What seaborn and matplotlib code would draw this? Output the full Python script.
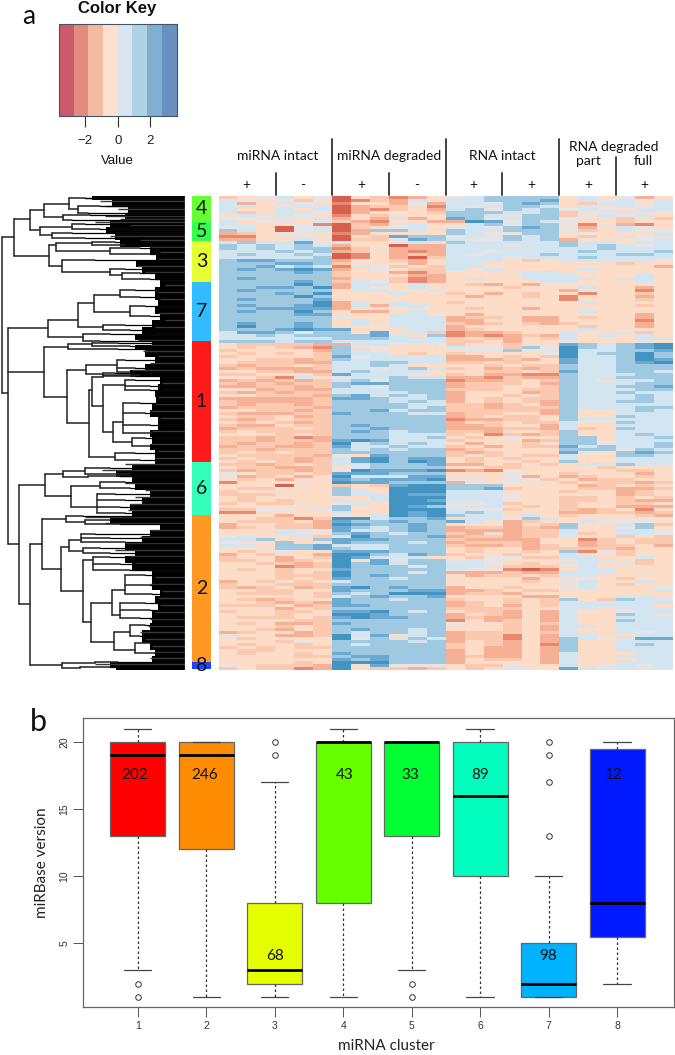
import matplotlib
matplotlib.use('Agg')
import matplotlib.pyplot as plt
from matplotlib.colors import ListedColormap
from matplotlib.lines import Line2D
import numpy as np
import pandas as pd
import seaborn as sns

W, H = 675, 1055

# cluster sizes, as printed in panel b
cluster_ids = [1, 2, 3, 4, 5, 6, 7, 8]
cluster_sizes = [202, 246, 68, 43, 33, 89, 98, 12]
# order of clusters down the heatmap
side_order = [4, 5, 3, 7, 1, 6, 2, 8]
side_colors = ['#66ff33', '#33ff4d', '#e6ff33', '#33bbff', '#ff1a1a', '#33ffbb', '#ff9922', '#2244ff']
box_colors = ['#ff0000', '#ff8c00', '#e6ff00', '#66ff00', '#00ff33', '#00ffbf', '#00b3ff', '#0019ff']

key_bins = [-3.15, -2.25, -1.35, -0.45, 0.45, 1.35, 2.25, 3.15]
key_colors = ['#cb5b6a', '#e38b7e', '#f6b9a1', '#fde0d0', '#d8e6ef', '#afd2e4', '#7fb0d0', '#6a90c0']
key_ticks = [-2, 0, 2]

# heatmap levels (0 red ... 9 dark blue)
heat_colors = ['#d6604d', '#e8896f', '#f6b096', '#fbc9b0', '#fddcc8', '#e6e4e4', '#d3e5f0', '#9fc9e1', '#6aa9d2', '#4393c3']
rows_top = ["345 645 043 124 567 777 464 524", "654 435 013 264 667 778 465 656",
            "624 654 144 252 665 787 436 646", "664 466 023 341 656 776 464 656",
            "644 646 021 342 675 767 565 466", "634 665 024 543 777 667 345 644",
            "465 654 143 444 776 577 356 564", "554 456 242 624 875 677 544 343",
            "645 545 321 442 298 576 544 344", "654 451 032 564 467 577 415 214",
            "564 056 034 564 565 787 524 654", "764 056 027 764 766 777 534 655",
            "234 554 124 444 765 577 454 446", "114 445 043 877 565 767 434 654",
            "224 464 033 587 655 767 244 456", "676 685 644 564 766 666 766 466",
            "767 676 244 022 666 566 767 656", "767 677 135 222 666 666 667 666",
            "666 767 234 212 665 666 676 667", "676 676 014 232 656 667 666 776",
            "666 667 014 203 666 566 676 666", "788 777 254 324 666 434 666 664",
            "777 887 344 424 664 444 444 344", "778 676 165 343 664 444 444 442",
            "787 898 245 433 646 444 464 444", "777 787 344 213 444 566 444 444",
            "777 777 344 422 444 466 644 464", "787 777 244 312 464 466 664 664",
            "777 787 365 312 444 446 644 464", "777 797 266 464 432 424 444 444",
            "778 879 265 464 444 344 464 424", "787 777 466 446 444 444 244 414",
            "777 879 444 644 342 434 414 434", "777 797 444 444 424 434 144 424",
            "787 778 444 444 444 444 144 434", "777 779 264 644 344 444 464 444",
            "787 789 262 664 444 444 444 434", "778 888 244 444 434 424 444 444",
            "787 797 422 464 444 444 464 444", "777 788 444 664 424 444 444 424"]
rows_upper = ["777 777 544 666 233 422 434 424", "777 777 464 666 224 422 444 414",
              "787 787 464 666 323 432 344 424", "797 787 445 666 244 444 434 424",
              "777 898 844 466 234 444 464 444", "688 757 748 463 122 344 644 634",
              "667 677 778 647 121 232 646 464", "666 666 777 666 343 243 644 466",
              "777 677 666 666 334 244 544 454", "433 332 266 545 344 344 876 789",
              "434 321 745 444 655 375 976 789", "344 442 764 444 455 755 966 778",
              "434 343 766 434 344 445 967 797", "344 443 856 666 224 343 966 797",
              "443 323 766 666 222 324 866 798", "433 322 667 766 334 344 866 789",
              "323 343 667 644 443 433 766 777", "232 223 665 676 342 323 766 777",
              "443 322 676 664 443 343 866 776", "334 443 866 644 342 211 766 677",
              "443 164 566 766 221 322 766 777", "232 323 675 777 122 343 764 667",
              "323 233 788 777 233 342 766 677", "223 323 765 777 233 443 766 778",
              "442 322 666 777 333 433 766 677", "323 233 666 677 244 423 766 766",
              "443 332 786 767 244 343 766 676", "222 223 887 667 243 433 766 676",
              "322 223 777 676 243 432 766 776", "323 323 777 766 332 342 766 666",
              "233 332 777 767 332 333 766 677", "443 323 778 677 333 332 744 676",
              "322 233 877 766 233 442 744 666", "433 423 777 777 234 334 744 766",
              "323 433 777 777 122 334 766 666", "434 323 777 777 243 433 644 766",
              "322 433 787 777 223 442 644 666", "233 343 778 777 222 332 634 766",
              "343 333 787 677 332 443 744 666", "444 343 777 666 341 323 744 676"]
rows_lower = ["332 312 777 667 434 544 774 667", "332 332 898 666 344 423 774 666",
              "323 323 967 676 424 434 775 667", "233 223 866 766 342 433 867 667",
              "332 333 767 677 234 444 777 576", "343 433 777 777 323 444 854 787",
              "433 332 548 777 343 433 644 776", "343 323 689 788 434 344 644 666",
              "434 323 689 798 434 434 744 666", "332 343 667 778 224 343 466 766",
              "433 223 467 777 443 344 443 444", "323 323 598 889 121 544 444 334",
              "543 343 888 777 444 544 344 424", "523 424 966 688 444 524 234 434",
              "434 244 878 889 554 553 423 344", "144 454 988 777 244 544 343 323",
              "444 044 343 899 777 444 423 434", "433 544 744 999 778 344 433 223",
              "344 444 764 999 666 444 344 234", "333 444 766 988 666 544 444 234",
              "434 444 446 999 666 544 334 343", "434 344 646 998 666 444 334 322",
              "343 344 564 999 556 344 344 334", "444 454 744 987 566 434 344 222",
              "335 545 744 999 655 344 323 414", "114 444 644 989 676 444 223 323",
              "444 244 546 989 766 464 344 432", "443 313 996 778 466 576 444 455",
              "433 342 877 877 864 234 465 554", "244 332 987 787 445 243 744 673",
              "234 332 876 787 233 232 744 574", "444 665 866 787 222 233 644 665",
              "444 654 787 677 324 233 634 665", "564 463 697 778 233 233 644 343",
              "667 447 888 777 322 224 413 433", "544 744 877 767 233 324 423 433",
              "664 778 666 777 322 323 423 342", "445 778 766 777 434 423 333 244",
              "434 544 888 777 434 434 715 344", "243 442 997 687 344 344 644 344"]
rows_bottom = ["344 243 986 664 435 533 664 464", "334 234 948 577 565 444 466 434",
               "443 323 978 677 665 434 664 534", "444 123 977 757 664 333 464 444",
               "434 344 877 777 655 101 466 444", "444 343 977 757 222 322 666 454",
               "444 333 978 777 423 343 664 444", "444 343 877 677 444 424 444 344",
               "243 434 677 777 444 434 564 464", "344 333 777 777 444 444 464 344",
               "323 423 897 877 244 344 564 445", "443 344 877 788 223 433 444 446",
               "433 343 767 999 233 244 444 444", "444 443 678 778 444 422 444 664",
               "432 344 877 677 344 343 743 766", "443 232 877 777 234 343 666 666",
               "333 423 887 777 234 243 666 664", "444 243 777 777 333 344 664 666",
               "344 334 889 767 433 242 644 566", "444 344 998 777 243 242 644 764",
               "433 343 898 877 232 242 644 666", "444 433 777 777 142 342 644 766",
               "434 223 877 777 544 343 644 666", "444 343 777 777 444 342 664 666",
               "443 243 787 767 444 342 644 666", "234 423 767 767 233 343 644 656",
               "544 223 968 467 233 142 664 466", "434 444 957 676 233 142 765 688",
               "444 354 777 767 243 242 744 666", "434 434 767 777 343 241 744 676",
               "343 433 777 777 342 242 744 666", "433 444 777 777 242 242 744 666",
               "434 434 877 777 242 242 644 466", "444 433 788 777 232 242 644 666",
               "444 444 878 777 243 342 644 466", "444 434 999 777 244 442 644 666",
               "543 332 948 555 433 544 645 656", "343 312 943 323 434 554 865 656"]

# dendrogram: (merge height, row, children...), a leaf is (height, row)
branch_u = (14, 237,
    (30, 219,
        (44, 210,
            (69, 204, (85, 198), (78, 209, (100, 206), (88, 213))),
            (63, 217, (90, 215), (72, 220))),
        (40, 230,
            (72, 227, (85, 224), (100, 229)),
            (52, 235, (72, 233), (85, 238)))),
    (49, 256,
        (56, 245,
            (92, 243, (115, 242), (125, 245)),
            (110, 251, (140, 248), (150, 254))),
        (62, 266,
            (95, 260),
            (110, 272, (125, 269), (122, 275, (140, 273), (150, 279))))))
branch_v = (48, 328,
    (78, 320,
        (94, 303,
            (120, 295, (135, 290), (140, 297)),
            (130, 312, (145, 306), (150, 316))),
        (103, 327, (125, 325), (130, 330))),
    (83, 337, (110, 334), (100, 341)))
branch_w = (44, 372,
    (68, 347, (92, 344, (118, 343), (130, 346)), (118, 349)),
    (67, 397,
        (86, 370,
            (117, 365, (125, 360), (135, 368), (130, 372)),
            (103, 374, (115, 373), (135, 376))),
        (89, 423,
            (92, 390,
                (103, 377, (140, 375)),
                (103, 406,
                    (125, 385, (135, 380), (150, 386), (150, 390)),
                    (113, 432,
                        (123, 422, (140, 403), (145, 413), (150, 425), (152, 433)),
                        (132, 442, (145, 438), (150, 446))))),
            (115, 457, (135, 453), (140, 460)))))
branch_q1 = (45, 485,
    (63, 474, (85, 471, (110, 468), (130, 474)), (88, 477, (120, 476))),
    (71, 496,
        (100, 486, (125, 482), (130, 488)),
        (97, 507, (115, 494), (125, 500), (120, 507), (125, 513))))
branch_q21 = (42, 544,
    (66, 519, (83, 516), (85, 522, (110, 520), (120, 524))),
    (61, 569,
        (69, 547,
            (81, 540, (95, 534), (110, 538), (125, 542)),
            (83, 551, (100, 548), (110, 553))),
        (83, 591,
            (93, 560, (110, 557), (120, 564), (130, 570)),
            (91, 622,
                (112, 603,
                    (125, 590, (145, 575), (150, 585), (152, 594)),
                    (120, 615, (145, 603), (150, 610), (140, 618))),
                (114, 642,
                    (130, 632, (145, 625), (140, 636)),
                    (135, 650, (150, 643), (155, 653)))))))
branch_q2b = (62, 665, (95, 663, (118, 662)), (80, 668, (110, 667)))
dendro_tree = (2, 315, branch_u,
    (8, 393, branch_v, branch_w,
        (19, 544, branch_q1, (30, 604, branch_q21, branch_q2b))))

# left edge of the solid black mass of leaves
edge_rows = [196, 203, 210, 217, 223, 230, 237, 243, 250, 257, 263, 270, 277, 283, 290, 297, 303, 310,
             317, 323, 330, 337, 343, 347, 353, 360, 367, 373, 380, 387, 393, 400, 407, 413, 420, 427,
             433, 440, 447, 453, 460, 467, 473, 480, 487, 493, 500, 507, 513, 520, 527, 533, 540, 547,
             553, 560, 567, 573, 580, 587, 593, 600, 607, 613, 620, 627, 633, 640, 647, 653, 660, 665, 670]
edge_start = [92, 112, 128, 125, 110, 106, 115, 120, 150, 156, 136, 142, 155, 160, 155, 155, 158, 155,
              160, 152, 142, 135, 152, 135, 145, 155, 145, 130, 160, 158, 155, 156, 152, 150, 158, 158,
              150, 152, 150, 155, 155, 132, 116, 132, 135, 150, 142, 130, 132, 110, 160, 150, 142, 125,
              135, 125, 132, 152, 152, 152, 160, 155, 158, 152, 152, 150, 142, 142, 150, 155, 152, 110, 116]

# thin grey twigs sticking out of the black mass
twig_rows = [198, 201, 206, 209, 213, 216, 219, 222, 225, 229, 233, 236, 240, 247, 252, 259, 266, 272,
             279, 285, 292, 299, 306, 313, 320, 327, 334, 340, 345, 351, 356, 363, 370, 376, 383, 390,
             397, 404, 411, 418, 425, 431, 438, 444, 451, 458, 464, 470, 476, 483, 490, 497, 504, 510,
             517, 523, 530, 537, 543, 550, 556, 563, 570, 577, 584, 591, 598, 605, 612, 619, 626, 632,
             639, 646, 652, 658, 664]
twig_start = [85, 100, 105, 118, 125, 105, 120, 95, 130, 112, 120, 110, 140, 150, 160, 158, 138, 145,
              155, 165, 158, 160, 160, 158, 165, 155, 145, 138, 150, 143, 158, 150, 132, 160, 162, 160,
              158, 155, 150, 160, 162, 152, 155, 150, 158, 155, 125, 102, 118, 125, 145, 135, 130, 128,
              85, 105, 150, 140, 125, 115, 128, 135, 148, 155, 150, 162, 158, 160, 155, 150, 148, 140,
              145, 152, 155, 150, 95]

# miRBase versions per cluster, chosen so the box statistics match panel b
version_1 = [1, 2, 3, 8, 11, 13, 14, 15, 17, 18, 19, 19, 19, 20, 20, 20, 20, 20, 20, 20, 21]
version_2 = [1, 3, 5, 8, 10, 12, 14, 15, 17, 18, 19, 19, 19, 20, 20, 20, 20, 20, 20, 20, 20]
version_3 = [1, 1, 1, 2, 2, 2, 2, 2, 3, 3, 3, 4, 5, 6, 7, 8, 10, 12, 17, 19, 20]
version_4 = [1, 2, 4, 5, 7, 8, 11, 14, 17, 19, 20, 20, 20, 20, 20, 20, 20, 20, 20, 20, 21]
version_5 = [1, 2, 3, 7, 10, 13, 15, 17, 18, 19, 20, 20, 20, 20, 20, 20, 20, 20, 20, 20, 20]
version_6 = [1, 3, 5, 7, 9, 10, 11, 13, 14, 15, 16, 17, 18, 19, 19, 20, 20, 20, 20, 20, 21]
version_7 = [1, 1, 1, 1, 1, 1, 1, 2, 2, 2, 2, 3, 3, 4, 4, 5, 10, 13, 17, 19, 20]
version_8 = [2, 3, 5, 6, 7, 8, 12, 19, 20, 20, 20]
count_heights = [17.55, 17.55, 4.05, 17.55, 17.55, 17.55, 4.05, 17.55]
count_shift = [-0.04, -0.03, 0.0, 0.02, -0.02, 0.0, -0.01, -0.05]
y_ticks = [5, 10, 15, 20]

sns.set_theme(style='white')
plt.rcParams['font.family'] = ['Lato', 'DejaVu Sans']

fig = plt.figure(figsize=(W / 100, H / 100), dpi=100)


def px_axes(x0, y0, x1, y1):
    return fig.add_axes([x0 / W, 1 - y1 / H, (x1 - x0) / W, (y1 - y0) / H])


def px_text(x, y, s, size=10, **kw):
    kw.setdefault('ha', 'center')
    kw.setdefault('va', 'center')
    kw.setdefault('color', '#111111')
    fig.text(x / W, 1 - y / H, s, fontsize=size, **kw)


def px_vline(x, y0, y1):
    fig.add_artist(Line2D([x / W, x / W], [1 - y0 / H, 1 - y1 / H], color='#333333', lw=1.3))


# Color key
ax_key = px_axes(59, 24, 176.5, 116)
sns.heatmap(np.array([key_bins]), cmap=ListedColormap(key_colors), vmin=-3.6, vmax=3.6, cbar=False,
            xticklabels=False, yticklabels=False, ax=ax_key)
for side in ax_key.spines.values():
    side.set_visible(True)
    side.set_color('#445566')
    side.set_linewidth(0.8)
ax_key.set_xticks([(t + 3.6) / 0.9 for t in key_ticks])
ax_key.set_xticklabels([str(t).replace('-', '\u2212') for t in key_ticks], family='Liberation Sans', fontsize=9.5, color='#222222')
ax_key.tick_params(axis='x', bottom=True, length=8, width=0.8, color='#333333', pad=6)
px_text(117.5, 8, 'Color Key', 12, fontweight='bold', family='Liberation Sans')
px_text(117.5, 161, 'Value', 9.5, family='Liberation Sans')
px_text(29, 17, 'a', 19)

# dendrogram
ax_den = px_axes(0, 196, 185, 670)
ax_den.set_xlim(0, 185)
ax_den.set_ylim(670, 196)
ax_den.axis('off')
ax_den.fill_betweenx(edge_rows, edge_start, 185, color='black', step='mid', lw=0)
ax_den.hlines(twig_rows, twig_start, 185, color='#3a3a3a', lw=1.0)


def draw_branch(node):
    height, row = node[0], node[1]
    children = node[2:]
    if not children:
        ax_den.plot([height, 185], [row, row], color='black', lw=0.9)
        return
    child_rows = [c[1] for c in children]
    ax_den.plot([height, height], [min(child_rows + [row]), max(child_rows + [row])], color='#222222', lw=1.1)
    for c in children:
        ax_den.plot([height, c[0]], [c[1], c[1]], color='#222222', lw=1.1)
        draw_branch(c)


draw_branch(dendro_tree)
ax_den.plot([185, 185], [196, 670], color='#888888', lw=1)

# cluster side bar
ax_side = px_axes(192, 196, 211, 669)
side_sizes = [cluster_sizes[c - 1] for c in side_order]
side_cells = np.repeat(np.arange(len(side_order)), side_sizes).reshape(-1, 1)
sns.heatmap(side_cells, cmap=ListedColormap(side_colors), cbar=False, xticklabels=False, yticklabels=False, ax=ax_side)
mid = np.cumsum(side_sizes) - np.array(side_sizes) / 2
for c, m in zip(side_order, mid):
    ax_side.text(0.5, min(m, 785), str(c), ha='center', va='center', fontsize=14, color='#111111')

# heatmap
heat_rows = rows_top + rows_upper + rows_lower + rows_bottom
heat = pd.DataFrame([[int(ch) for ch in r.replace(' ', '')] for r in heat_rows])
ax_heat = px_axes(218.5, 196, 673, 670)
sns.heatmap(heat, cmap=ListedColormap(heat_colors), vmin=-0.5, vmax=9.5, cbar=False,
            xticklabels=False, yticklabels=False, ax=ax_heat)

# column headers
for x in [332, 446, 559]:
    px_vline(x, 139, 195)
for x in [276, 389, 502]:
    px_vline(x, 173, 195)
px_vline(616, 157, 195)
px_text(278, 156, 'miRNA intact', 10)
px_text(389, 156, 'miRNA degraded', 10)
px_text(502, 156, 'RNA intact', 10)
px_text(614, 147, 'RNA degraded', 10)
px_text(588, 161, 'part', 10)
px_text(643, 161, 'full', 10)
for x, s in zip([246, 303, 361, 417, 473, 531, 588, 644], ['+', '-', '+', '-', '+', '+', '+', '+']):
    px_text(x, 185, s, 10)

# panel b
versions = [version_1, version_2, version_3, version_4, version_5, version_6, version_7, version_8]
box_df = pd.DataFrame({
    'cluster': [c for c, v in zip(cluster_ids, versions) for _ in v],
    'version': [x for v in versions for x in v],
})
ax_box = px_axes(83, 718, 674, 1007)
sns.boxplot(data=box_df, x='cluster', y='version', hue='cluster', palette=box_colors, legend=False,
            saturation=1, width=0.8, linecolor='#666666', linewidth=0.9, fliersize=4, ax=ax_box,
            flierprops=dict(marker='o', markerfacecolor='none', markeredgecolor='#333333', markeredgewidth=0.7),
            medianprops=dict(color='black', linewidth=2),
            whiskerprops=dict(color='#333333', linestyle=(0, (2, 2)), linewidth=0.9),
            capprops=dict(color='#444444', linewidth=0.9))
ax_box.set_xlim(-0.80, 7.83)
ax_box.set_ylim(0.25, 21.79)
ax_box.set_yticks(y_ticks)
ax_box.set_yticklabels(y_ticks, rotation=90, va='center', family='Liberation Sans', fontsize=7.5, color='#333333')
ax_box.set_xticks(range(len(cluster_ids)))
ax_box.set_xticklabels(cluster_ids, family='Liberation Sans', fontsize=7.5, color='#333333')
ax_box.tick_params(left=True, bottom=True, length=7, width=0.7, color='#555555', pad=3)
for side in ax_box.spines.values():
    side.set_visible(True)
    side.set_color('#666666')
    side.set_linewidth(0.9)
ax_box.set_xlabel('')
ax_box.set_ylabel('miRBase version', fontsize=11, color='#222222', labelpad=7)
px_text(386, 1046, 'miRNA cluster', 11, color='#222222')
for i, (n, y, dx) in enumerate(zip(cluster_sizes, count_heights, count_shift)):
    ax_box.text(i + dx, y, str(n), ha='center', va='center', fontsize=11, color='#111111')
px_text(38, 722, 'b', 22)

fig.savefig('out.png', dpi=100)
